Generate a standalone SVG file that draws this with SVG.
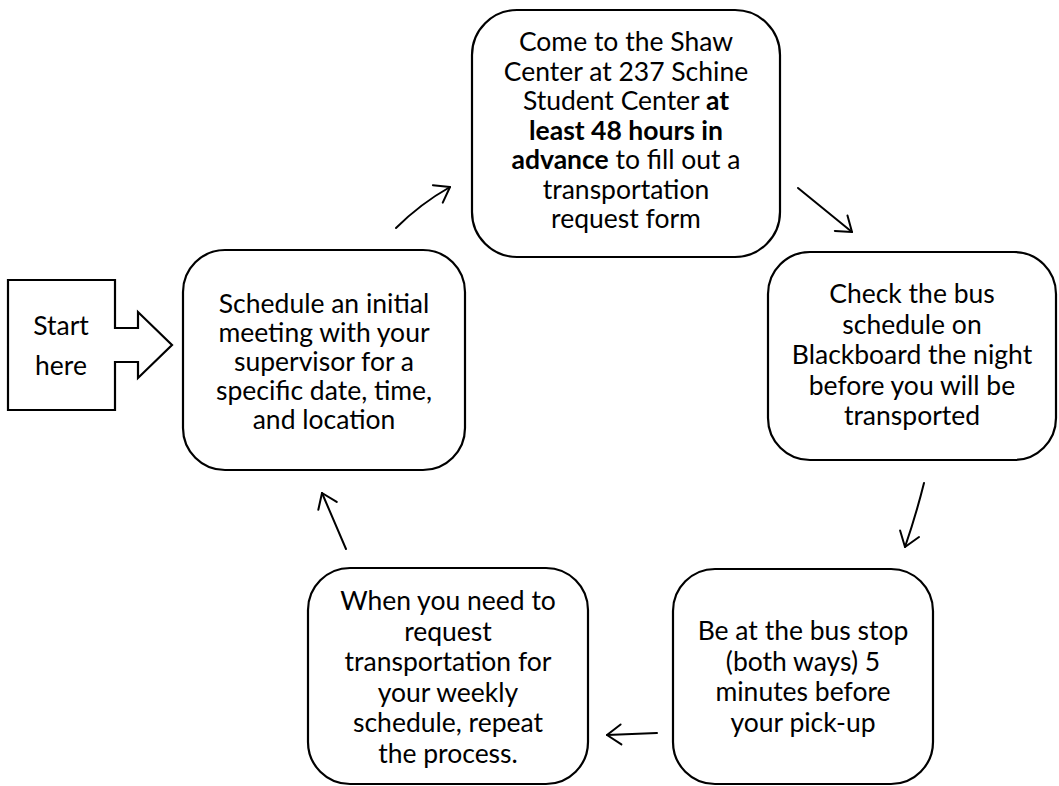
<svg xmlns="http://www.w3.org/2000/svg" width="1059" height="786" viewBox="0 0 1059 786">
<defs>
<marker id="ah" markerUnits="userSpaceOnUse" markerWidth="30" markerHeight="30" refX="0" refY="0" viewBox="-20 -15 30 30" orient="auto" overflow="visible">
<path d="M-14,-10 L0,0 L-14,10" fill="none" stroke="#000" stroke-width="2" stroke-linecap="round" stroke-linejoin="round"/>
</marker>
<style>
.box{fill:#fff;stroke:#000;stroke-width:2.2}
.t{font-family:Lato,"Liberation Sans",sans-serif;font-size:26.5px;fill:#000;text-anchor:middle}
.b{font-weight:bold}
.c{fill:none;stroke:#000;stroke-width:2;stroke-linecap:round}
</style>
</defs>
<rect width="1059" height="786" fill="#fff"/>
<g id="start">
<path class="box" d="M8,280 H115 V328 H138 V312 L172,345 L138,378 V362 H115 V410 H8 Z"/>
<text class="t" x="61" y="335">Start</text>
<text class="t" x="61" y="375">here</text>
</g>
<g id="node-schedule">
<rect class="box" x="183" y="250" width="282" height="220" rx="42"/>
<text class="t" x="324" y="313">Schedule an initial</text>
<text class="t" x="324" y="342">meeting with your</text>
<text class="t" x="324" y="371">supervisor for a</text>
<text class="t" x="324" y="400">specific date, time,</text>
<text class="t" x="324" y="429">and location</text>
</g>
<g id="node-shaw">
<rect class="box" x="472" y="10" width="308" height="247" rx="45"/>
<text class="t" x="626" y="51">Come to the Shaw</text>
<text class="t" x="626" y="80.5">Center at 237 Schine</text>
<text class="t" x="626" y="110">Student Center <tspan class="b">at</tspan></text>
<text class="t b" x="626" y="139.5">least 48 hours in</text>
<text class="t" x="626" y="169"><tspan class="b">advance</tspan> to fill out a</text>
<text class="t" x="626" y="198.5">transportation</text>
<text class="t" x="626" y="228">request form</text>
</g>
<g id="node-check">
<rect class="box" x="768" y="252" width="288" height="208" rx="42"/>
<text class="t" x="912" y="303">Check the bus</text>
<text class="t" x="912" y="333.5">schedule on</text>
<text class="t" x="912" y="364">Blackboard the night</text>
<text class="t" x="912" y="394.5">before you will be</text>
<text class="t" x="912" y="425">transported</text>
</g>
<g id="node-busstop">
<rect class="box" x="673" y="569" width="260" height="215" rx="42"/>
<text class="t" x="803" y="640">Be at the bus stop</text>
<text class="t" x="803" y="670.5">(both ways) 5</text>
<text class="t" x="803" y="701">minutes before</text>
<text class="t" x="803" y="731.5">your pick-up</text>
</g>
<g id="node-repeat">
<rect class="box" x="308" y="568" width="280" height="216" rx="42"/>
<text class="t" x="448" y="610">When you need to</text>
<text class="t" x="448" y="640.5">request</text>
<text class="t" x="448" y="671">transportation for</text>
<text class="t" x="448" y="701.5">your weekly</text>
<text class="t" x="448" y="732">schedule, repeat</text>
<text class="t" x="448" y="762.5">the process.</text>
</g>
<g id="connectors">
<path class="c" d="M396,228 Q420,204 450,187" marker-end="url(#ah)"/>
<line class="c" x1="798" y1="188" x2="852" y2="232" marker-end="url(#ah)"/>
<path class="c" d="M924,483 Q916,515 905,547" marker-end="url(#ah)"/>
<line class="c" x1="657" y1="733" x2="607" y2="735" marker-end="url(#ah)"/>
<line class="c" x1="346" y1="549" x2="322" y2="493" marker-end="url(#ah)"/>
</g>
</svg>
